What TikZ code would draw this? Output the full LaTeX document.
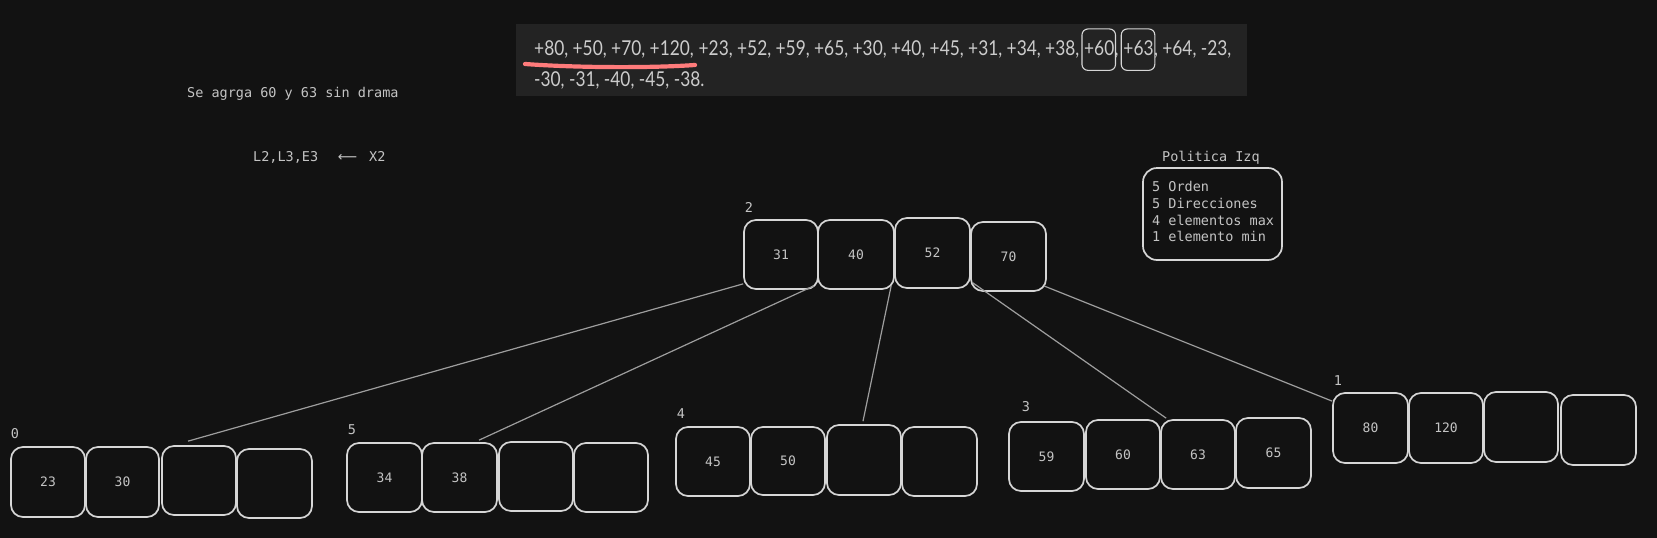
\documentclass[tikz,border=0pt]{standalone}
\usepackage{fontspec}
\setmonofont{DejaVu Sans Mono}
\newfontfamily\seqfont[FakeStretch=0.845]{Lato}
\newfontfamily\arrowfont{DejaVu Sans}
\definecolor{bgc}{HTML}{121212}
\definecolor{seqbg}{HTML}{232323}
\definecolor{strokec}{HTML}{D6D6D6}
\definecolor{txtc}{HTML}{C4C4C4}
\definecolor{linec}{HTML}{9E9E9E}
\definecolor{redc}{HTML}{FF7B7B}
\definecolor{seqtxt}{HTML}{CCCCCC}
\begin{document}
\begin{tikzpicture}[x=1pt,y=-1pt,
  cell/.style={draw=strokec, line width=1.7pt, rounded corners=12pt,
    minimum width=74pt, minimum height=69pt, inner sep=0pt,
    font=\ttfamily\fontsize{13}{15}\selectfont, text=txtc},
  lbl/.style={font=\ttfamily\fontsize{13.5}{16.7}\selectfont, text=txtc, inner sep=0pt},
  link/.style={draw=linec, line width=1.2pt},
  seq/.style={font=\seqfont\fontsize{20.5}{24}\selectfont, text=seqtxt, inner sep=0pt, anchor=base west},
  hl/.style={draw=strokec, line width=1.1pt, rounded corners=6pt},
  polbox/.style={draw=strokec, line width=1.7pt, rounded corners=14pt,
    minimum width=139pt, minimum height=92pt, inner sep=0pt}
]
\useasboundingbox[fill=bgc] (0,0) rectangle (1657,538);

% sequence panel
\node[fill=seqbg, minimum width=731pt, minimum height=72pt, inner sep=0pt] (seqbox) at (881.5,60) {};
\node[seq] (t1) at (534,55) {+80, +50, +70, +120,};
\node[seq] (t2) at (t1.base east) {\ +23, +52, +59, +65, +30, +40, +45, +31, +34, +38,\ \null};
\node[seq] (t3) at (t2.base east) {+60};
\node[seq] (t4) at (t3.base east) {,\ \null};
\node[seq] (t5) at (t4.base east) {+63};
\node[seq] (t6) at (t5.base east) {, +64, -23,};
\node[seq] (t7) at (534,86) {-30, -31, -40, -45, -38.};
\draw[hl] ([xshift=-2pt,yshift=11pt]t3.north west) rectangle ([xshift=1pt,yshift=-15pt]t3.south east);
\draw[hl] ([xshift=-2pt,yshift=11pt]t5.north west) rectangle ([xshift=1pt,yshift=-15pt]t5.south east);
\draw[redc, line width=4.2pt, line cap=round]
  ([xshift=-9pt,yshift=-6pt]t1.south west) .. controls ([xshift=45pt,yshift=-10pt]t1.south west)
  and ([xshift=-40pt,yshift=-10pt]t1.south east) .. ([xshift=1pt,yshift=-7pt]t1.south east);

% notes
\node[lbl, anchor=base west] (note1) at (187,97) {Se agrga 60 y 63 sin drama};
\node[lbl, anchor=base west] (note2) at (253,161) {L2,L3,E3};
\node[lbl, font=\arrowfont\fontsize{13.5}{16}\selectfont, anchor=base] (arr) at (347.5,161) {⟵};
\node[lbl, anchor=base west] (note3) at (369,161) {X2};

% policy
\node[lbl, anchor=base west] (poltitle) at (1162,161) {Politica Izq};
\node[polbox] (pol) at (1212.5,214) {};
\node[lbl, anchor=north west, align=left] (poltext) at (1152,181.2)
  {5 Orden\\5 Direcciones\\4 elementos max\\1 elemento min};

% root node 2
\node[lbl] (lr) at (749,207) {2};
\node[cell] (r1) at (781,254.5) {31};
\node[cell, minimum width=76pt] (r2) at (856,254.5) {40};
\node[cell, minimum width=75pt, minimum height=70pt] (r3) at (932.5,253) {52};
\node[cell, minimum width=75pt] (r4) at (1008.5,256.5) {70};

% leaf 0
\node[lbl] (la) at (15,434) {0};
\node[cell, minimum height=70pt] (a1) at (48,482) {23};
\node[cell, minimum width=73pt, minimum height=70pt] (a2) at (122.5,482) {30};
\node[cell] (a3) at (199,480.5) {};
\node[cell, minimum width=75pt] (a4) at (274.5,483.5) {};

% leaf 5
\node[lbl] (lb) at (352,430) {5};
\node[cell, minimum width=75pt] (b1) at (384.5,477.5) {34};
\node[cell, minimum width=75pt] (b2) at (459.5,477.5) {38};
\node[cell] (b3) at (536,476.5) {};
\node[cell] (b4) at (611,477.5) {};

% leaf 4
\node[lbl] (lc) at (681,414) {4};
\node[cell] (c1) at (713,461.5) {45};
\node[cell, minimum height=68pt] (c2) at (788,461) {50};
\node[cell, minimum height=70pt] (c3) at (864,460) {};
\node[cell, minimum width=75pt] (c4) at (939.5,461.5) {};

% leaf 3
\node[lbl] (ld) at (1026,407) {3};
\node[cell, minimum width=75pt] (d1) at (1046.5,456.5) {59};
\node[cell] (d2) at (1123,454.5) {60};
\node[cell] (d3) at (1198,454.5) {63};
\node[cell, minimum width=75pt, minimum height=70pt] (d4) at (1273.5,453) {65};

% leaf 1
\node[lbl] (le) at (1338,381) {1};
\node[cell, minimum width=75pt, minimum height=70pt] (e1) at (1370.5,428) {80};
\node[cell, minimum height=70pt] (e2) at (1446,428) {120};
\node[cell, minimum height=70pt] (e3) at (1521,427) {};
\node[cell, minimum width=75pt, minimum height=70pt] (e4) at (1598.5,430) {};

% connectors
\draw[link] ([yshift=6pt]r1.south west) -- ([xshift=-11pt,yshift=4pt]a3.north);
\draw[link] ([xshift=-5pt,yshift=4pt]r1.south east) -- ([xshift=19.5pt,yshift=2pt]b2.north);
\draw[link] ([xshift=-3pt,yshift=3pt]r3.south west) -- ([xshift=-1pt,yshift=3pt]c3.north);
\draw[link] ([xshift=2pt,yshift=6pt]r3.south east) -- ([xshift=6pt,yshift=1pt]d3.north west);
\draw[link] ([xshift=-3pt,yshift=6pt]r4.south east) -- ([yshift=-9pt]e1.north west);
\end{tikzpicture}
\end{document}
